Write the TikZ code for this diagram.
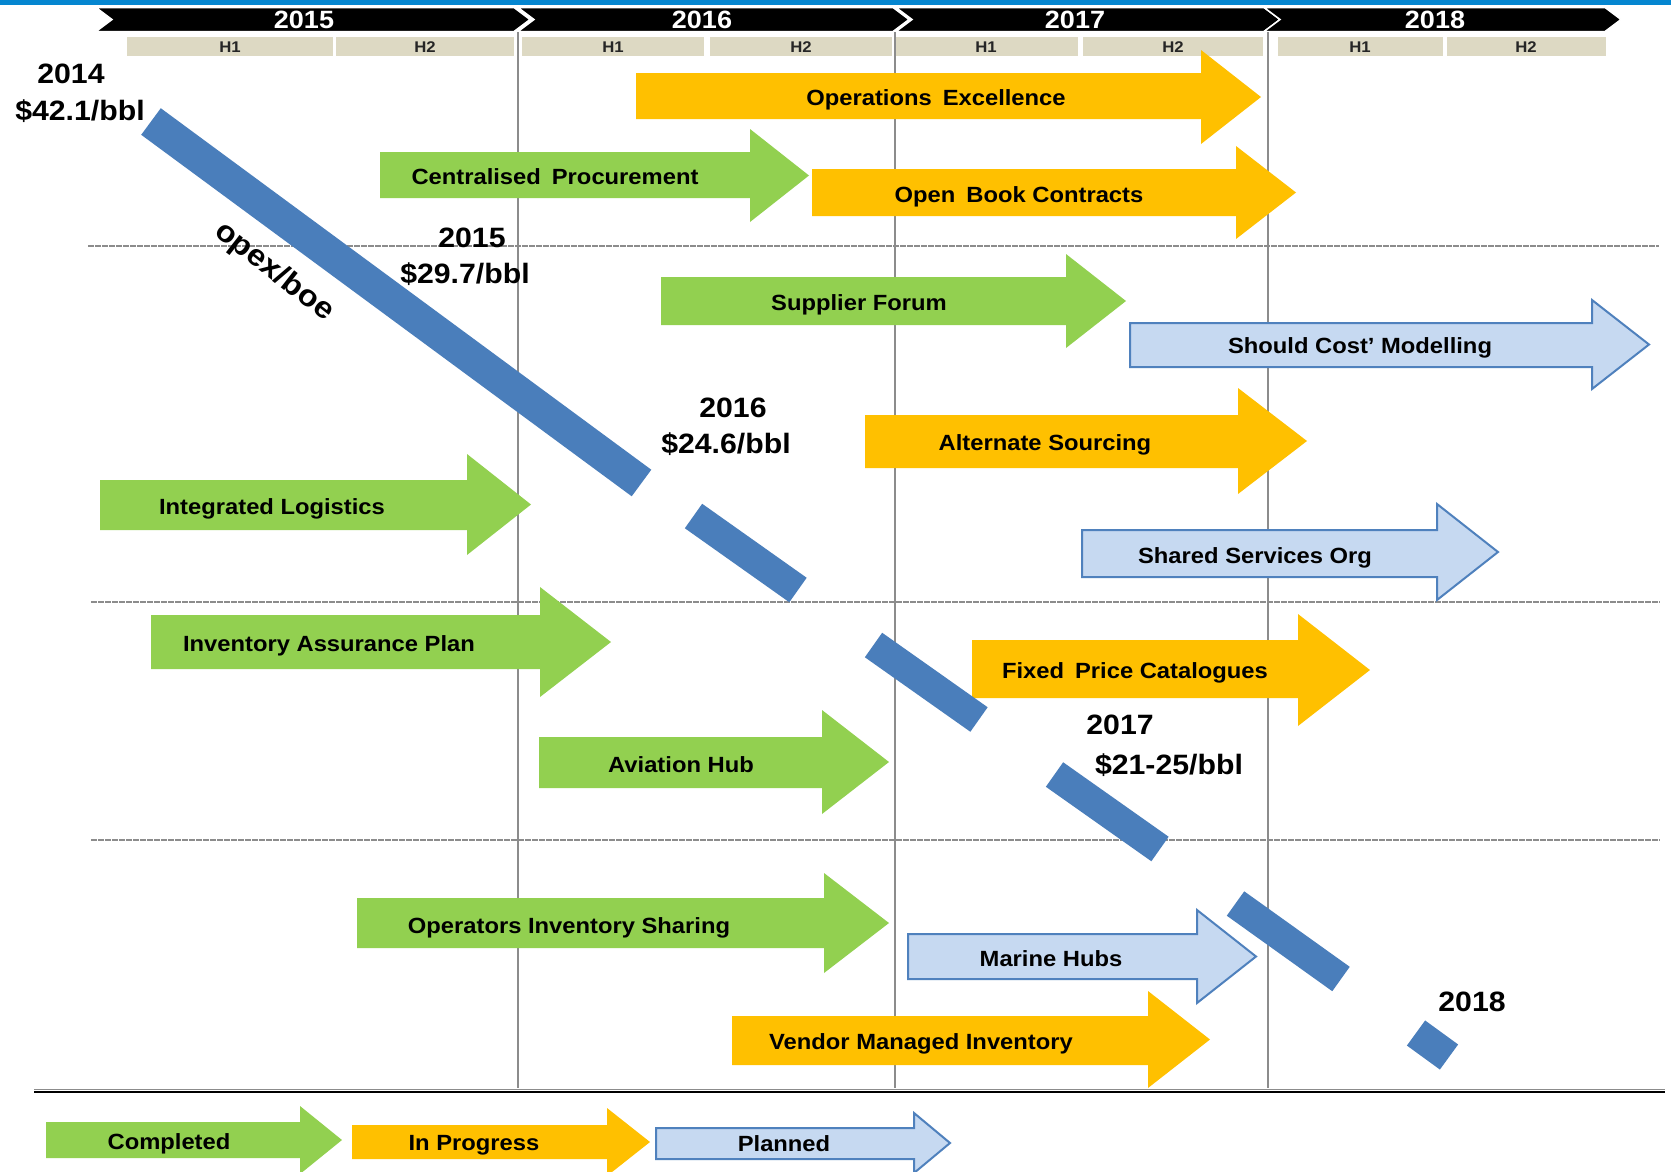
\documentclass[tikz,border=0pt]{standalone}
\usepackage{fontspec}
\setmainfont{Liberation Sans}[FakeStretch=1.08]
\definecolor{yel}{HTML}{FFC000}
\definecolor{grn}{HTML}{92D050}
\definecolor{lblue}{HTML}{C6D9F1}
\definecolor{oblue}{HTML}{4F81BD}
\definecolor{barblue}{HTML}{4A7EBB}
\definecolor{beige}{HTML}{DDD9C3}
\definecolor{topblue}{HTML}{0586D0}
\definecolor{gridgray}{HTML}{8C8C8C}
\definecolor{htext}{HTML}{262626}
\newcommand\blockarrow[8]{%
  \path[#1] (#2,#5) -- (#3,#5) -- (#3,#7) -- (#4,{(#7+#8)/2}) -- (#3,#8) -- (#3,#6) -- (#2,#6) -- cycle;}
\newcommand\chev[2]{%
  \path[chevron] (#1,7.5) -- (#2,7.5) -- (#2+16,19.5) -- (#2,31.5) -- (#1,31.5) -- (#1+16,19.5) -- cycle;}
\begin{document}
\begin{tikzpicture}[x=1pt,y=-1pt,
  done/.style={fill=grn},
  prog/.style={fill=yel},
  plan/.style={fill=lblue,draw=oblue,line width=2pt},
  chevron/.style={fill=black,draw=white,line width=1.5pt},
  hbar/.style={fill=beige},
  vgrid/.style={draw=gridgray,line width=2pt},
  hgrid/.style={draw=gridgray,line width=1.8pt,dash pattern=on 6pt off 1pt},
  trend/.style={draw=barblue,line width=30pt,line cap=butt},
  lbl/.style={font=\bfseries\fontsize{22}{24}\selectfont,text height=15.8pt,text depth=0pt,inner sep=0pt},
  big/.style={font=\bfseries\fontsize{28}{30}\selectfont,text height=20pt,text depth=0pt,inner sep=0pt},
  yr/.style={font=\bfseries\fontsize{25}{27}\selectfont,white,text height=17.5pt,text depth=0pt,inner sep=0pt},
  hh/.style={font=\bfseries\fontsize{15.5}{17}\selectfont,text=htext,text height=11pt,text depth=0pt,inner sep=0pt}]
\useasboundingbox (0,0) rectangle (1671,1171);
\fill[white] (0,0) rectangle (1671,1171);
% top blue band
\fill[topblue] (0,0) rectangle (1671,4.5);
% year chevrons
\chev{96}{514}
\chev{518}{893}
\chev{896}{1264}
\chev{1264}{1605}
\node[yr] (y15) at (304,20) {2015};
\node[yr] (y16) at (702,20) {2016};
\node[yr] (y17) at (1075,20) {2017};
\node[yr] (y18) at (1435,20) {2018};
% half-year bars
\fill[hbar] (127,37) rectangle (333,56);
\fill[hbar] (336,37) rectangle (514,56);
\fill[hbar] (522,37) rectangle (704,56);
\fill[hbar] (710,37) rectangle (892,56);
\fill[hbar] (895,37) rectangle (1078,56);
\fill[hbar] (1083,37) rectangle (1263,56);
\fill[hbar] (1278,37) rectangle (1443,56);
\fill[hbar] (1447,37) rectangle (1606,56);
\node[hh] (h1a) at (230,47) {H1};
\node[hh] (h2a) at (425,47) {H2};
\node[hh] (h1b) at (613,47) {H1};
\node[hh] (h2b) at (801,47) {H2};
\node[hh] (h1c) at (986,47) {H1};
\node[hh] (h2c) at (1173,47) {H2};
\node[hh] (h1d) at (1360,47) {H1};
\node[hh] (h2d) at (1526,47) {H2};
% grid
\draw[vgrid] (518,32) -- (518,1088);
\draw[vgrid] (895,32) -- (895,1088);
\draw[vgrid] (1268,32) -- (1268,1088);
\draw[hgrid] (88,246) -- (1659,246);
\draw[hgrid] (91,602) -- (1660,602);
\draw[hgrid] (91,840) -- (1660,840);
\draw[gridgray,line width=1pt] (34,1089.5) -- (1665,1089.5);
\draw[black,line width=2.5pt] (34,1092) -- (1665,1092);
% arrows
\blockarrow{prog}{636}{1201}{1261}{73}{119}{50}{144}
\node[lbl] (opex) at (936,98) {Operations\hspace{0.5em}Excellence};
\blockarrow{done}{380}{750}{809}{152}{198}{129}{222}
\node[lbl] (cent) at (555,177) {Centralised\hspace{0.5em}Procurement};
\blockarrow{prog}{812}{1236}{1296}{169}{216}{146}{239}
\node[lbl] (open) at (1019,195) {Open\hspace{0.5em}Book Contracts};
\blockarrow{done}{661}{1066}{1126}{277}{325}{254}{348}
\node[lbl] (supp) at (859,303) {Supplier Forum};
\blockarrow{plan}{1130}{1592}{1649}{323}{367}{300}{389}
\node[lbl] (should) at (1360,346) {Should Cost' Modelling};
\blockarrow{prog}{865}{1238}{1307}{415}{468}{388}{494}
\node[lbl] (alt) at (1045,443) {Alternate Sourcing};
\blockarrow{done}{100}{467}{531}{480}{530}{454}{555}
\node[lbl] (intlog) at (272,507) {Integrated Logistics};
\blockarrow{plan}{1082}{1437}{1498}{530}{577}{504}{600}
\node[lbl] (shared) at (1255,556) {Shared Services Org};
\blockarrow{done}{151}{540}{611}{615}{669}{587}{697}
\node[lbl] (invas) at (329,644) {Inventory Assurance Plan};
\blockarrow{prog}{972}{1298}{1370}{640}{698}{614}{726}
\node[lbl] (fixed) at (1135,671) {Fixed\hspace{0.5em}Price Catalogues};
\blockarrow{done}{539}{822}{889}{737}{788}{710}{814}
\node[lbl] (avi) at (681,765) {Aviation Hub};
\blockarrow{done}{357}{824}{889}{898}{948}{873}{973}
\node[lbl] (opinv) at (569,926) {Operators Inventory Sharing};
\blockarrow{plan}{908}{1197}{1256}{934}{979}{910}{1003}
\node[lbl] (marine) at (1051,959) {Marine Hubs};
\blockarrow{prog}{732}{1148}{1210}{1016}{1065}{991}{1088}
\node[lbl] (vmi) at (921,1042) {Vendor Managed Inventory};
% trend bars
\draw[trend,line width=33pt] (151,121.5) -- (641.5,483);
\draw[trend] (693.5,516) -- (798,590);
\draw[trend] (873.5,645) -- (979,719.5);
\draw[trend] (1054.5,774.5) -- (1160,849);
\draw[trend] (1235.5,903.5) -- (1341,979);
\draw[trend,line width=31pt] (1416,1033) -- (1449,1057);
% labels
\node[big] (l14a) at (71,73) {2014};
\node[big] (l14b) at (80,110) {\$42.1/bbl};
\node[big] (l15a) at (472,237) {2015};
\node[big] (l15b) at (465,273) {\$29.7/bbl};
\node[big] (l16a) at (733,407) {2016};
\node[big] (l16b) at (726,443) {\$24.6/bbl};
\node[big] (l17a) at (1120,724) {2017};
\node[big] (l17b) at (1169,764) {\$21-25/bbl};
\node[big] (l18a) at (1472,1001) {2018};
\node[font=\bfseries\fontsize{30}{32}\selectfont,inner sep=0pt,rotate=-38] (opexboe) at (274,272) {opex/boe};
% legend
\blockarrow{done}{46}{300}{342}{1122}{1158}{1106}{1174}
\node[lbl] (lc) at (169,1142) {Completed};
\blockarrow{prog}{352}{607}{650}{1125}{1159}{1108}{1176}
\node[lbl] (lp) at (474,1143) {In Progress};
\blockarrow{plan}{656}{914}{950}{1128}{1159}{1113}{1173}
\node[lbl] (lpl) at (784,1144) {Planned};
\end{tikzpicture}
\end{document}
